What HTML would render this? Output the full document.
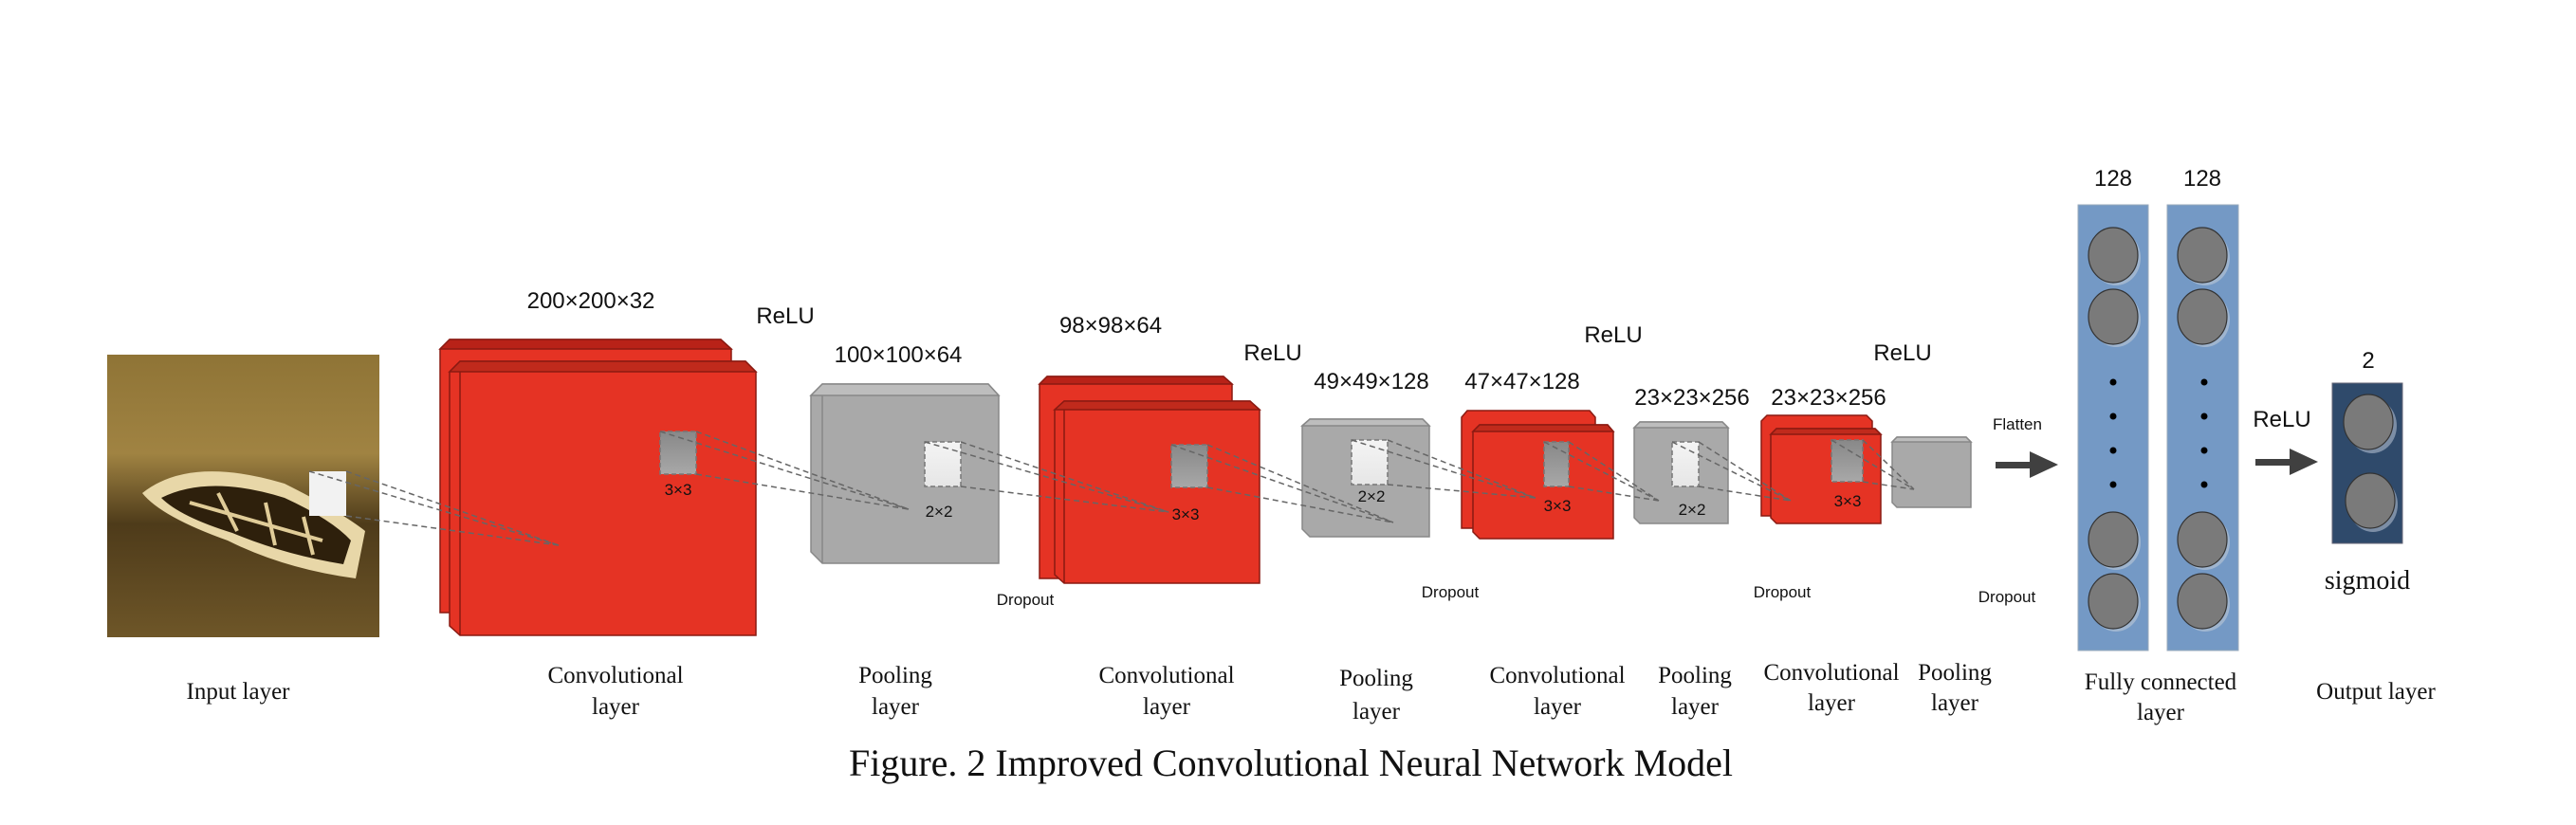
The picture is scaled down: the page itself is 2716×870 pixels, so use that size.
<!DOCTYPE html>
<html><head><meta charset="utf-8"><style>
html,body{margin:0;padding:0;background:#fff;}
svg{display:block}
.s{font-family:"Liberation Sans",sans-serif;fill:#111}
.t{font-family:"Liberation Serif",serif;fill:#111}
</style></head><body>
<svg width="2716" height="870" viewBox="0 0 2716 870" xmlns="http://www.w3.org/2000/svg">
<defs>
<linearGradient id="sea" x1="0" y1="0" x2="0" y2="1">
<stop offset="0" stop-color="#8f7436"/><stop offset="0.35" stop-color="#a08342"/><stop offset="0.6" stop-color="#4e3b1a"/><stop offset="1" stop-color="#6e5628"/>
</linearGradient>
<linearGradient id="kg" x1="0" y1="0" x2="0" y2="1"><stop offset="0" stop-color="#888"/><stop offset="1" stop-color="#a8a8a8"/></linearGradient>
<linearGradient id="wg" x1="0" y1="0" x2="0" y2="1"><stop offset="0" stop-color="#f4f4f4"/><stop offset="1" stop-color="#e6e6e6"/></linearGradient>
</defs>

<!-- input image -->
<rect x="113" y="374" width="287" height="298" fill="url(#sea)"/>
<path d="M150 520 Q200 480 300 510 Q360 540 385 560 L375 610 Q300 600 240 570 Q170 545 150 520Z" fill="#e8d7a8"/>
<path d="M170 525 Q220 500 300 525 Q350 548 370 570 L362 595 Q300 585 245 562 Q190 545 170 525Z" fill="#2e200c"/>
<path d="M200 530 L340 570 M230 520 L250 560 M280 530 L290 575 M320 545 L330 585" stroke="#e0cc98" stroke-width="4"/>
<rect x="326" y="497" width="39" height="47" fill="#f2f2f2"/>

<!-- conv1 -->
<g stroke="#8a1a12" stroke-width="1.5">
<polygon points="464,368 474,358 760,358 771,368 771,646 464,646" fill="#e53324"/>
<polygon points="464,368 474,358 760,358 771,368" fill="#b82218"/>
<polygon points="474,392 485,381 786,381 797,392 797,670 485,670 474,660" fill="#e53324"/>
<polygon points="474,392 485,381 786,381 797,392" fill="#c02a1c"/>
<line x1="485" y1="392" x2="485" y2="670"/>
</g>
<!-- pool1 -->
<g stroke="#888" stroke-width="1.5">
<polygon points="855,417 867,405 1042,405 1053,417 1053,594 867,594 855,582" fill="#a9a9a9"/>
<polygon points="855,417 867,405 1042,405 1053,417" fill="#bdbdbd"/>
<line x1="867" y1="417" x2="867" y2="594"/>
</g>
<!-- conv2 -->
<g stroke="#8a1a12" stroke-width="1.5">
<polygon points="1096,405 1104,397 1290,397 1299,405 1299,610 1096,610" fill="#e53324"/>
<polygon points="1096,405 1104,397 1290,397 1299,405" fill="#b82218"/>
<polygon points="1112,432 1122,423 1318,423 1328,432 1328,615 1122,615 1112,606" fill="#e53324"/>
<polygon points="1112,432 1122,423 1318,423 1328,432" fill="#c02a1c"/>
<line x1="1122" y1="432" x2="1122" y2="615"/>
</g>
<!-- pool2 -->
<g stroke="#888" stroke-width="1.5">
<polygon points="1373,449 1381,442 1500,442 1507,449 1507,566 1381,566 1373,558" fill="#a9a9a9"/>
<polygon points="1373,449 1381,442 1500,442 1507,449" fill="#bdbdbd"/>
</g>
<!-- conv3 -->
<g stroke="#8a1a12" stroke-width="1.5">
<polygon points="1541,440 1547,433 1676,433 1682,440 1682,557 1541,557" fill="#e53324"/>
<polygon points="1553,455 1560,448 1695,448 1701,455 1701,568 1560,568 1553,561" fill="#e53324"/>
<polygon points="1553,455 1560,448 1695,448 1701,455" fill="#c02a1c"/>
</g>
<!-- pool3 -->
<g stroke="#888" stroke-width="1.5">
<polygon points="1723,451 1729,445 1816,445 1822,451 1822,552 1729,552 1723,546" fill="#a9a9a9"/>
<polygon points="1723,451 1729,445 1816,445 1822,451" fill="#bdbdbd"/>
</g>
<!-- conv4 -->
<g stroke="#8a1a12" stroke-width="1.5">
<polygon points="1857,444 1863,438 1968,438 1974,444 1974,544 1857,544" fill="#e53324"/>
<polygon points="1867,458 1873,452 1977,452 1983,458 1983,552 1873,552 1867,546" fill="#e53324"/>
<polygon points="1867,458 1873,452 1977,452 1983,458" fill="#c02a1c"/>
</g>
<!-- pool4 -->
<g stroke="#888" stroke-width="1.5">
<polygon points="1995,466 2000,461 2073,461 2078,466 2078,535 2000,535 1995,530" fill="#a9a9a9"/>
<polygon points="1995,466 2000,461 2073,461 2078,466" fill="#bdbdbd"/>
</g>

<!-- kernels -->
<g stroke="#777" stroke-width="1.5" stroke-dasharray="5,3">
<rect x="696" y="455" width="38" height="45" fill="url(#kg)"/>
<rect x="975" y="466" width="38" height="47" fill="url(#wg)"/>
<rect x="1235" y="469" width="38" height="45" fill="url(#kg)"/>
<rect x="1425" y="464" width="38" height="47" fill="url(#wg)"/>
<rect x="1628" y="466" width="26" height="47" fill="url(#kg)"/>
<rect x="1763" y="466" width="28" height="47" fill="url(#wg)"/>
<rect x="1931" y="464" width="33" height="44" fill="url(#kg)"/>
</g>

<!-- dashed lines (on top) -->
<g stroke="#666" stroke-width="1.5" stroke-dasharray="6,4" fill="none">
<path d="M326 497L589 575M365 497L589 575M365 544L589 575"/>
<path d="M696 455L958 537M734 455L958 537M734 500L958 537"/>
<path d="M975 466L1232 540M1013 466L1232 540M1013 513L1232 540"/>
<path d="M1235 469L1469 551M1273 469L1469 551M1273 514L1469 551"/>
<path d="M1425 464L1619 525M1463 464L1619 525M1463 511L1619 525"/>
<path d="M1628 466L1749 528M1654 466L1749 528M1654 513L1749 528"/>
<path d="M1763 466L1888 528M1791 466L1888 528M1791 513L1888 528"/>
<path d="M1931 464L2018 516M1964 464L2018 516M1964 508L2018 516"/>
</g>

<g class="s" font-size="17" text-anchor="middle">
<text x="715" y="522">3×3</text><text x="990" y="545">2×2</text><text x="1250" y="548">3×3</text>
<text x="1446" y="529">2×2</text><text x="1642" y="539">3×3</text><text x="1784" y="543">2×2</text><text x="1948" y="534">3×3</text>
</g>

<!-- dimension labels -->
<g class="s" font-size="24" text-anchor="middle">
<text x="623" y="325">200×200×32</text><text x="828" y="341">ReLU</text>
<text x="947" y="382">100×100×64</text>
<text x="1171" y="351">98×98×64</text><text x="1342" y="380">ReLU</text>
<text x="1446" y="410">49×49×128</text><text x="1605" y="410">47×47×128</text><text x="1701" y="361">ReLU</text>
<text x="1784" y="427">23×23×256</text><text x="1928" y="427">23×23×256</text><text x="2006" y="380">ReLU</text>
<text x="2228" y="196">128</text><text x="2322" y="196">128</text><text x="2497" y="388">2</text>
<text x="2406" y="450">ReLU</text>
</g>
<g class="s" font-size="17" text-anchor="middle">
<text x="1081" y="638">Dropout</text><text x="1529" y="630">Dropout</text><text x="1879" y="630">Dropout</text><text x="2116" y="635">Dropout</text>
<text x="2127" y="453">Flatten</text>
</g>

<!-- arrows -->
<g fill="#404040">
<rect x="2104" y="487" width="40" height="7"/><polygon points="2140,476 2170,490 2140,504"/>
<rect x="2378" y="484" width="40" height="7"/><polygon points="2414,473 2444,487 2414,501"/>
</g>

<!-- FC columns -->
<rect x="2191" y="216" width="74" height="470" fill="#7499c5" stroke="#9ab" stroke-width="1"/>
<rect x="2285" y="216" width="75" height="470" fill="#7499c5" stroke="#9ab" stroke-width="1"/>
<g>
<g fill="#9fb5cf"><ellipse cx="2231" cy="272" rx="26" ry="29"/><ellipse cx="2231" cy="337" rx="26" ry="29"/><ellipse cx="2231" cy="572" rx="26" ry="29"/><ellipse cx="2231" cy="637" rx="26" ry="29"/>
<ellipse cx="2325" cy="272" rx="26" ry="29"/><ellipse cx="2325" cy="337" rx="26" ry="29"/><ellipse cx="2325" cy="572" rx="26" ry="29"/><ellipse cx="2325" cy="637" rx="26" ry="29"/></g>
<g fill="#7a7a7a" stroke="#333" stroke-width="1.2"><ellipse cx="2228" cy="269" rx="26" ry="29"/><ellipse cx="2228" cy="334" rx="26" ry="29"/><ellipse cx="2228" cy="569" rx="26" ry="29"/><ellipse cx="2228" cy="634" rx="26" ry="29"/>
<ellipse cx="2322" cy="269" rx="26" ry="29"/><ellipse cx="2322" cy="334" rx="26" ry="29"/><ellipse cx="2322" cy="569" rx="26" ry="29"/><ellipse cx="2322" cy="634" rx="26" ry="29"/></g>
<g fill="#000"><circle cx="2228" cy="403" r="3.5"/><circle cx="2228" cy="439" r="3.5"/><circle cx="2228" cy="475" r="3.5"/><circle cx="2228" cy="511" r="3.5"/>
<circle cx="2324" cy="403" r="3.5"/><circle cx="2324" cy="439" r="3.5"/><circle cx="2324" cy="475" r="3.5"/><circle cx="2324" cy="511" r="3.5"/></g>
</g>
<!-- output -->
<rect x="2459" y="404" width="74" height="169" fill="#2f4a6b" stroke="#667" stroke-width="1"/>
<g fill="#7c8ea6"><ellipse cx="2501" cy="449" rx="26" ry="29"/><ellipse cx="2502" cy="532" rx="26" ry="29"/></g>
<g fill="#7a7a7a" stroke="#333" stroke-width="1.2"><ellipse cx="2497" cy="445" rx="26" ry="29"/><ellipse cx="2499" cy="528" rx="26" ry="29"/></g>

<!-- bottom labels -->
<g class="t" font-size="25" text-anchor="middle">
<text x="251" y="737">Input layer</text>
<text x="649" y="720">Convolutional</text><text x="649" y="753">layer</text>
<text x="944" y="720">Pooling</text><text x="944" y="753">layer</text>
<text x="1230" y="720">Convolutional</text><text x="1230" y="753">layer</text>
<text x="1451" y="723">Pooling</text><text x="1451" y="758">layer</text>
<text x="1642" y="720">Convolutional</text><text x="1642" y="753">layer</text>
<text x="1787" y="720">Pooling</text><text x="1787" y="753">layer</text>
<text x="1931" y="717">Convolutional</text><text x="1931" y="749">layer</text>
<text x="2061" y="717">Pooling</text><text x="2061" y="749">layer</text>
<text x="2278" y="727">Fully connected</text><text x="2278" y="759">layer</text>
<text x="2505" y="737">Output layer</text>
<text x="2496" y="621" font-size="28">sigmoid</text>
<text x="1361" y="818" font-size="40">Figure. 2 Improved Convolutional Neural Network Model</text>
</g>
</svg>
</body></html>
